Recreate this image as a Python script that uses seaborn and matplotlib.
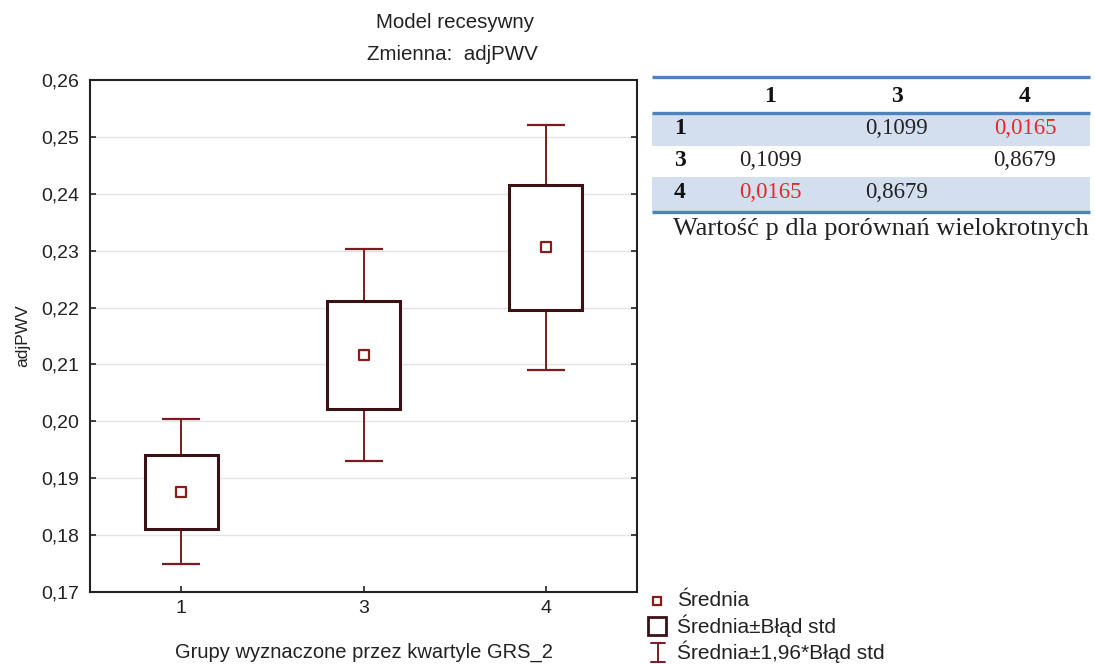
import numpy as np
import pandas as pd
import matplotlib
matplotlib.use("Agg")
import matplotlib.pyplot as plt
from matplotlib.patches import Rectangle
import seaborn as sns

# Group means and standard errors of adjPWV by GRS_2 quartile group
groups = ["1", "3", "4"]
means = [0.1876, 0.2116, 0.2306]
std_err = [0.0065, 0.0095, 0.0110]
z_mult = 1.96

# Pairwise p-values for multiple comparisons
p_labels = ["1", "3", "4"]
p_matrix = [
    ["", "0,1099", "0,0165"],
    ["0,1099", "", "0,8679"],
    ["0,0165", "0,8679", ""],
]
p_signif = [
    [False, False, True],
    [False, False, False],
    [True, False, False],
]

yticks = [0.17, 0.18, 0.19, 0.20, 0.21, 0.22, 0.23, 0.24, 0.25, 0.26]

sns.set_style("white")
plt.rcParams["font.family"] = ["Liberation Sans", "DejaVu Sans"]

BOX_EDGE = "#3c1015"
WHISK = "#7d1a1f"
MEAN_EDGE = "#8b1a1a"
GRID = "#e4e4e4"
TEXT = "#222222"

W, H = 1095, 664
fig = plt.figure(figsize=(W / 100, H / 100), dpi=100)

def fig_rect(x0, y0, x1, y1):
    return [x0 / W, 1 - y1 / H, (x1 - x0) / W, (y1 - y0) / H]

ax = fig.add_axes(fig_rect(90, 80, 637, 592))

df = pd.DataFrame({"grupa": groups, "mean": means, "se": std_err})
xpos = np.arange(len(groups))
se = np.array(std_err)
m = np.array(means)

# whiskers: mean +/- 1.96 * SE
ax.errorbar(xpos, m, yerr=z_mult * se, fmt="none", ecolor=WHISK,
            elinewidth=1.4, capsize=13.5, capthick=1.6, zorder=2)
# boxes: mean +/- SE
ax.bar(xpos, 2 * se, bottom=m - se, width=0.4, facecolor="white",
       edgecolor=BOX_EDGE, linewidth=2.2, zorder=3)
# means
sns.scatterplot(data=df, x="grupa", y="mean", marker="s", s=42,
                facecolor="white", edgecolor=MEAN_EDGE, linewidth=1.6,
                ax=ax, zorder=4, legend=False)

ax.set_xlim(-0.5, len(groups) - 0.5)
ax.set_ylim(0.17, 0.26)
ax.set_yticks(yticks)
ax.set_yticklabels([f"{v:.2f}".replace(".", ",") for v in yticks])
ax.set_xticks(xpos)
ax.set_xticklabels(groups)
for yv in yticks[1:-1]:
    ax.axhline(yv, color=GRID, lw=1.0, zorder=0)
ax.tick_params(axis="both", direction="in", length=4, width=1.2,
               labelsize=14, colors=TEXT, pad=8,
               left=True, right=True, bottom=True, top=False)
ax.tick_params(axis="x", pad=6)
for s in ax.spines.values():
    s.set_color("#222222")
    s.set_linewidth(1.5)
ax.set_xlabel("Grupy wyznaczone przez kwartyle GRS_2", fontsize=14.5,
              color=TEXT, labelpad=18.5)
ax.set_ylabel("adjPWV", fontsize=12.5, color=TEXT, labelpad=8)
fig.text(455 / W, 1 - 23 / H, "Model recesywny", ha="center", va="center",
         fontsize=14.8, color=TEXT)
fig.text(452 / W, 1 - 55 / H, "Zmienna:  adjPWV", ha="center", va="center",
         fontsize=14.8, color=TEXT)

# p-value table, drawn in pixel coordinates
tx = fig.add_axes([0, 0, 1, 1], facecolor="none")
tx.set_xlim(0, W)
tx.set_ylim(H, 0)
tx.axis("off")
BLUE = "#4f81bd"
SHADE = "#d3dfee"
T0, T1 = 652, 1090
row_edges = [77, 113, 146, 177, 212]
row_y = [128, 160, 192]
for i in (0, 2):
    tx.add_patch(Rectangle((T0, row_edges[i + 1]), T1 - T0,
                           row_edges[i + 2] - row_edges[i + 1],
                           facecolor=SHADE, edgecolor="none"))
for yl in (row_edges[0], row_edges[1], row_edges[-1]):
    tx.plot([T0, T1], [yl, yl], color=BLUE, lw=2.4, solid_capstyle="butt")
serif = ["Liberation Serif", "DejaVu Serif"]
col_x = [770, 897, 1025]
row_lab_x = 680
for cx, lab in zip(col_x, p_labels):
    tx.text(cx, 97, lab, ha="center", va="center", fontsize=17,
            fontweight="bold", family=serif, color="#111111")
for r, lab in enumerate(p_labels):
    ry = row_y[r]
    tx.text(row_lab_x, ry, lab, ha="center", va="center", fontsize=17,
            fontweight="bold", family=serif, color="#111111")
    for c in range(len(p_labels)):
        if p_matrix[r][c]:
            tx.text(col_x[c], ry, p_matrix[r][c], ha="center", va="center",
                    fontsize=16.5, family=serif,
                    color="#e8262b" if p_signif[r][c] else "#222222")
tx.text(1089, 229, "Wartość p dla porównań wielokrotnych", ha="right",
        va="center", fontsize=19, family=serif, color="#222222")

# legend
lx, ltx = 657, 677
ly = [601, 626, 652]
tx.plot([lx], [ly[0]], marker="s", ms=6, mfc="white", mec=MEAN_EDGE, mew=1.6)
tx.add_patch(Rectangle((648, ly[1] - 9), 18, 18, facecolor="white",
                       edgecolor=BOX_EDGE, lw=2.0))
tx.plot([lx + 1, lx + 1], [ly[2] - 9, ly[2] + 10], color=WHISK, lw=1.4)
tx.plot([lx - 6, lx + 8], [ly[2] - 9, ly[2] - 9], color=WHISK, lw=1.4)
tx.plot([lx - 6, lx + 8], [ly[2] + 10, ly[2] + 10], color=WHISK, lw=1.4)
for yv, lab in zip(ly, ["Średnia", "Średnia±Błąd std",
                        "Średnia±1,96*Błąd std"]):
    tx.text(ltx, yv, lab, ha="left", va="center", fontsize=15, color=TEXT)

fig.savefig("out.png", dpi=100, facecolor="white")
